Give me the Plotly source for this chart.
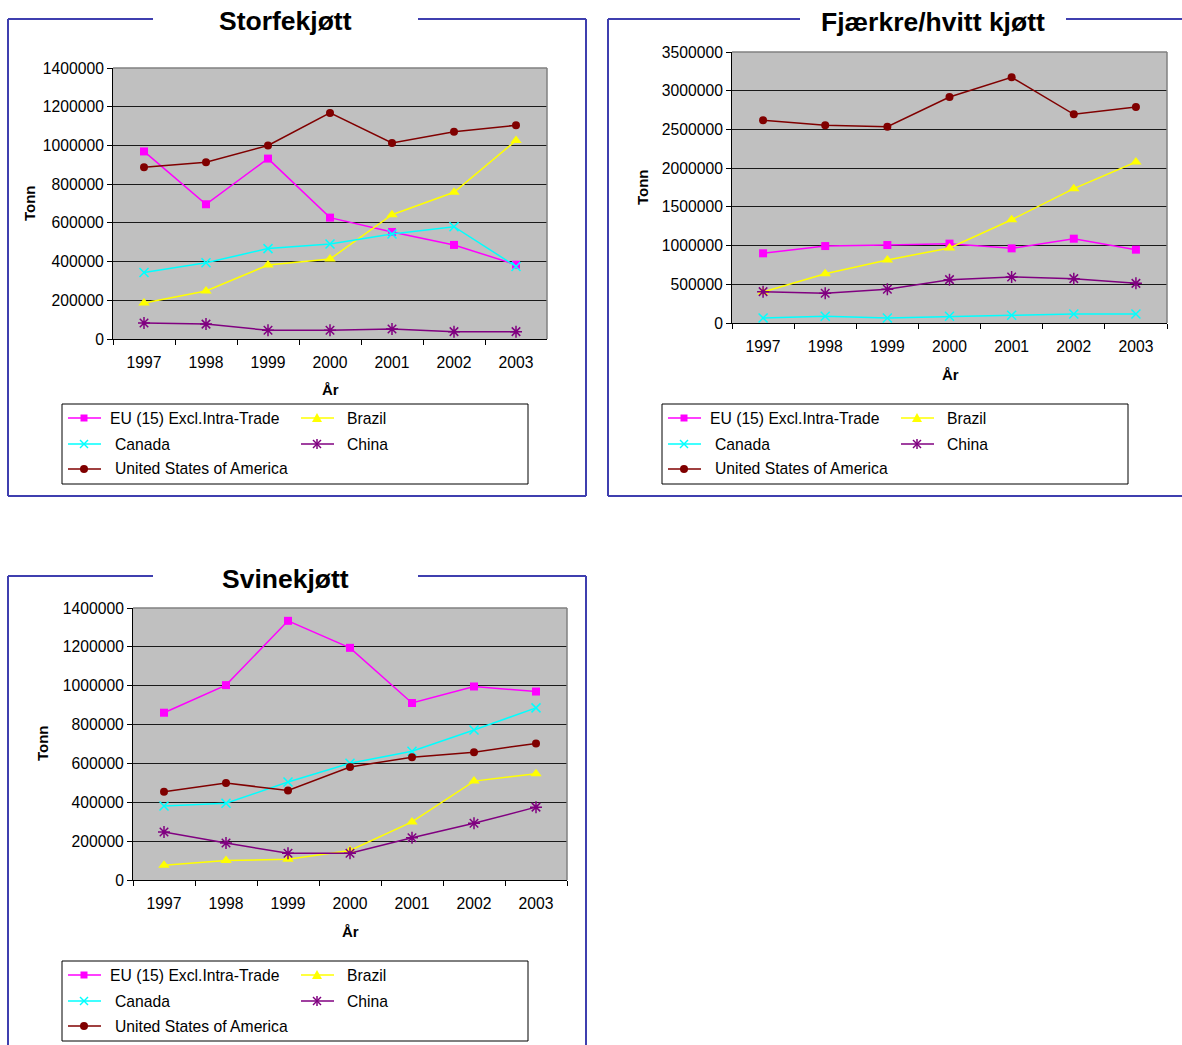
import plotly.graph_objects as go

W, H = 1182, 1045

years = ["1997", "1998", "1999", "2000", "2001", "2002", "2003"]
series_names = ["EU (15) Excl.Intra-Trade", "Brazil", "Canada", "China", "United States of America"]
panel_titles = ["Storfekjøtt", "Fjærkre/hvitt kjøtt", "Svinekjøtt"]

# Storfekjøtt (beef), tonn
storfe_eu = [969000, 696000, 932000, 627000, 553000, 486000, 384000]
storfe_brazil = [186000, 248000, 382000, 413000, 642000, 758000, 1025000]
storfe_canada = [344000, 394000, 467000, 491000, 542000, 580000, 375000]
storfe_china = [83000, 77000, 45000, 45000, 52000, 38000, 38000]
storfe_usa = [887000, 913000, 1000000, 1168000, 1013000, 1071000, 1104000]

# Fjærkre/hvitt kjøtt (poultry), tonn
fjaerkre_eu = [900000, 994000, 1007000, 1025000, 964000, 1089000, 947000]
fjaerkre_brazil = [400000, 637000, 814000, 969000, 1334000, 1735000, 2079000]
fjaerkre_canada = [65000, 86000, 65000, 86000, 99000, 116000, 116000]
fjaerkre_china = [405000, 383000, 435000, 560000, 594000, 573000, 512000]
fjaerkre_usa = [2617000, 2553000, 2535000, 2919000, 3173000, 2695000, 2789000]

# Svinekjøtt (pork), tonn
svine_eu = [861000, 1003000, 1334000, 1195000, 911000, 996000, 970000]
svine_brazil = [76000, 100000, 107000, 152000, 299000, 509000, 547000]
svine_canada = [381000, 395000, 504000, 601000, 663000, 772000, 886000]
svine_china = [247000, 190000, 138000, 138000, 217000, 292000, 375000]
svine_usa = [454000, 499000, 461000, 582000, 632000, 658000, 703000]

y_max = [1400000, 3500000, 1400000]
y_step = [200000, 500000, 200000]

panels_data = [
    [storfe_eu, storfe_brazil, storfe_canada, storfe_china, storfe_usa],
    [fjaerkre_eu, fjaerkre_brazil, fjaerkre_canada, fjaerkre_china, fjaerkre_usa],
    [svine_eu, svine_brazil, svine_canada, svine_china, svine_usa],
]

FONT = "Liberation Sans, Arial, sans-serif"
FS = 15.7
colors = ["#FF00FF", "#FFFF00", "#00FFFF", "#800080", "#800000"]
symbols = ["square", "triangle-up", "x-thin-open", "asterisk-open", "circle"]
msizes = [8, 10, 9, 10, 8]
FRAME = "#3F3FAF"


def px(x):
    return x / W


def py(y):
    return 1 - y / H


# plot-area pixel boxes (left, right, top, bottom)
boxes = [(113, 547, 68, 339), (732, 1167, 52, 323), (133, 567, 608, 880)]

fig = go.Figure()
for i, data in enumerate(panels_data):
    sx = "" if i == 0 else str(i + 1)
    for j, vals in enumerate(data):
        sym = symbols[j]
        marker = dict(symbol=sym, size=msizes[j], color=colors[j])
        if sym.endswith("-open"):
            marker["line"] = dict(color=colors[j], width=1.5)
        else:
            marker["line"] = dict(width=0)
        fig.add_trace(go.Scatter(
            x=years, y=vals, mode="lines+markers", name=series_names[j],
            line=dict(color=colors[j], width=1.5), marker=marker,
            xaxis="x" + sx, yaxis="y" + sx, showlegend=False,
        ))

layout = dict(
    width=W, height=H, margin=dict(l=0, r=0, t=0, b=0, pad=0),
    autosize=False,
    paper_bgcolor="white", plot_bgcolor="#C0C0C0",
    font=dict(family=FONT, size=FS, color="black"),
    showlegend=False,
)

shapes = []
annotations = []

for i, (l, r, t, b) in enumerate(boxes):
    sx = "" if i == 0 else str(i + 1)
    layout["xaxis" + sx] = dict(
        type="category", categoryorder="array", categoryarray=years,
        range=[-0.5, 6.5], domain=[px(l), px(r)], anchor="y" + sx,
        tickson="boundaries", ticks="outside", ticklen=5, tickcolor="black",
        showline=True, linecolor="black", linewidth=1, showgrid=False,
        zeroline=False, tickfont=dict(size=FS, color="black"),
        ticklabelstandoff=9, fixedrange=True, automargin=False,
    )
    layout["yaxis" + sx] = dict(
        range=[0, y_max[i]], dtick=y_step[i], tick0=0, tickformat="d",
        domain=[py(b), py(t)], anchor="x" + sx,
        ticks="outside", ticklen=5, tickcolor="black",
        showline=True, linecolor="black", linewidth=1,
        showgrid=True, gridcolor="#1a1a1a", gridwidth=1, zeroline=False,
        tickfont=dict(size=FS, color="black"), fixedrange=True, automargin=False,
    )
    # gray top/right plot border
    shapes.append(dict(type="line", xref="x%s domain" % sx, yref="y%s domain" % sx,
                       x0=0, x1=1, y0=1, y1=1, line=dict(color="#808080", width=1.5)))
    shapes.append(dict(type="line", xref="x%s domain" % sx, yref="y%s domain" % sx,
                       x0=1, x1=1, y0=0, y1=1, line=dict(color="#808080", width=1.5)))


def seg(x0, y0, x1, y1, color=FRAME, width=2):
    shapes.append(dict(type="line", xref="paper", yref="paper",
                       x0=px(x0), y0=py(y0), x1=px(x1), y1=py(y1),
                       line=dict(color=color, width=width)))


# panel frames
seg(8, 19, 153, 19); seg(418, 19, 586, 19); seg(8, 19, 8, 496); seg(586, 19, 586, 496); seg(8, 496, 586, 496)
seg(608, 19, 800, 19); seg(1066, 19, 1182, 19); seg(608, 19, 608, 496); seg(608, 496, 1182, 496)
seg(8, 576, 153, 576); seg(418, 576, 586, 576); seg(8, 576, 8, 1046); seg(586, 576, 586, 1046)

# titles
title_pos = [(285, 21), (933, 22), (285, 579)]
for (tx, ty), txt in zip(title_pos, panel_titles):
    annotations.append(dict(xref="paper", yref="paper", x=px(tx), y=py(ty), text="<b>%s</b>" % txt,
                            showarrow=False, xanchor="center", yanchor="middle",
                            font=dict(size=26.5, color="black", family=FONT)))

# axis titles
tonn_pos = [(29, 203), (642, 187), (42, 743)]
aar_pos = [(330, 390), (950, 374), (350, 931)]
for (tx, ty) in tonn_pos:
    annotations.append(dict(xref="paper", yref="paper", x=px(tx), y=py(ty), text="<b>Tonn</b>",
                            showarrow=False, textangle=-90, xanchor="center", yanchor="middle",
                            font=dict(size=15, color="black", family=FONT)))
for (tx, ty) in aar_pos:
    annotations.append(dict(xref="paper", yref="paper", x=px(tx), y=py(ty), text="<b>År</b>",
                            showarrow=False, xanchor="center", yanchor="middle",
                            font=dict(size=15, color="black", family=FONT)))

# manual legends
legend_boxes = [(62, 404), (662, 404), (62, 961)]
entry_pos = [(6, 14, 46), (239, 14, 283), (6, 40, 51), (239, 40, 283), (6, 65, 51)]


def marker_shape(j, cx, cy):
    c = colors[j]
    if j == 0:
        shapes.append(dict(type="rect", xref="paper", yref="paper",
                           x0=px(cx - 3.5), x1=px(cx + 3.5), y0=py(cy - 3.5), y1=py(cy + 3.5),
                           fillcolor=c, line=dict(width=0)))
    elif j == 1:
        path = "M %f,%f L %f,%f L %f,%f Z" % (px(cx - 5), py(cy + 4), px(cx + 5), py(cy + 4),
                                               px(cx), py(cy - 5))
        shapes.append(dict(type="path", xref="paper", yref="paper", path=path,
                           fillcolor=c, line=dict(width=0)))
    elif j == 2:
        seg(cx - 4, cy - 4, cx + 4, cy + 4, c, 1.5)
        seg(cx - 4, cy + 4, cx + 4, cy - 4, c, 1.5)
    elif j == 3:
        seg(cx - 4, cy - 4, cx + 4, cy + 4, c, 1.5)
        seg(cx - 4, cy + 4, cx + 4, cy - 4, c, 1.5)
        seg(cx, cy - 5, cx, cy + 5, c, 1.5)
    else:
        shapes.append(dict(type="circle", xref="paper", yref="paper",
                           x0=px(cx - 4), x1=px(cx + 4), y0=py(cy - 4), y1=py(cy + 4),
                           fillcolor=c, line=dict(width=0)))


for (lx, ly) in legend_boxes:
    shapes.append(dict(type="rect", xref="paper", yref="paper",
                       x0=px(lx), x1=px(lx + 466), y0=py(ly), y1=py(ly + 80),
                       line=dict(color="black", width=1), fillcolor="rgba(0,0,0,0)"))
    for j, (ox, oy, tx) in enumerate(entry_pos):
        x0 = lx + ox
        yy = ly + oy
        seg(x0, yy, x0 + 33, yy, colors[j], 1.5)
        marker_shape(j, x0 + 16, yy)
        annotations.append(dict(xref="paper", yref="paper", x=px(lx + tx), y=py(yy),
                                text=series_names[j], showarrow=False,
                                xanchor="left", yanchor="middle",
                                font=dict(size=FS, color="black", family=FONT)))

layout["shapes"] = shapes
layout["annotations"] = annotations
fig.update_layout(**layout)
fig.write_html(
    "out.html",
    config={"displayModeBar": False},
    post_script="document.body.style.margin='0';document.body.style.padding='0';"
                "document.body.style.overflow='hidden';",
)
